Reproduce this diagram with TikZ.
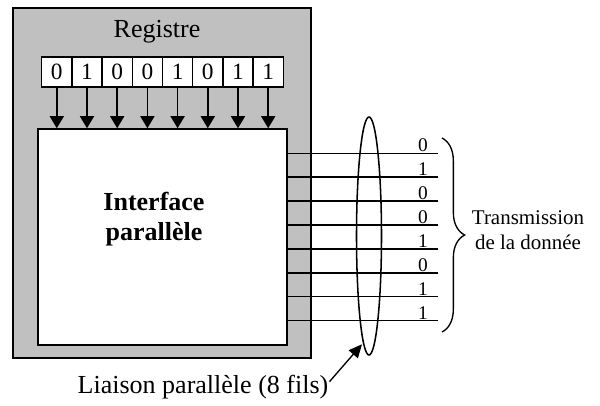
\documentclass[tikz,border=0pt]{standalone}
\usepackage{fontspec}
\setmainfont{Liberation Serif}
\usetikzlibrary{arrows.meta,shapes.geometric,decorations.pathreplacing}
\definecolor{boxgray}{RGB}{192,192,192}

\tikzset{every picture/.style={line width=1.15pt}}
\tikzset{
  cell/.style={draw, fill=white, minimum width=22.65pt, minimum height=22.5pt, inner sep=0pt, font=\fontsize{17.5}{20}\selectfont},
  bitlabel/.style={anchor=south east, inner sep=1pt, font=\fontsize{14.5}{16}\selectfont},
  bigtext/.style={font=\fontsize{19.5}{23}\selectfont},
  downarrow/.style={-{Triangle[width=10.5pt,length=9pt]}},
}

\begin{document}
\begin{tikzpicture}[x=0.75pt,y=0.75pt,yscale=-1,xscale=1]
\useasboundingbox (0,0) rectangle (600,405);

%Shape: Rectangle [id:registre]
\node [draw, fill=boxgray, minimum width=223.5pt, minimum height=262.5pt, inner sep=0pt] (regbox) at (162,183) {};
%Shape: Rectangle [id:interface]
\node [draw, fill=white, minimum width=186.75pt, minimum height=162pt, inner sep=0pt] (iface) at (162.5,237) {};

% Text Node
\node [bigtext] (registre) at (157,32) {Registre};
% Text Node
\node [bigtext, font=\fontsize{19.5}{23}\selectfont\bfseries, align=center] (ifacetext) at (154,219) {Interface\\parallèle};

%Shape: Register cells and arrows
\foreach \b [count=\i] in {0,1,0,0,1,0,1,1}{
  \node [cell] (c\i) at ({41.7+30.2*(\i-0.5)},72) {\b};
  \draw [downarrow] (c\i.south) -- (c\i.south |- iface.north);
}

%Straight Lines: the 8 wires
\foreach \b [count=\i] in {0,1,0,0,1,0,1,1}{
  \coordinate (w\i) at (438,{153.3+23.9*(\i-1)});
  \draw (iface.east |- w\i) -- (w\i);
  \node [bitlabel] (b\i) at ([xshift=-6pt,yshift=0.5pt]w\i) {\b};
}

%Shape: Ellipse [id:bundle]
\node [draw, ellipse, minimum width=18.75pt, minimum height=178.5pt, inner sep=0pt] (bundle) at (369,236) {};

%Shape: Brace
\draw [line width=1pt, decorate, decoration={brace, amplitude=17pt}] (442,138) -- (442,332);

% Text Node
\node [font=\fontsize{15.7}{19}\selectfont, align=center] (transm) at (528,230) {Transmission\\de la donnée};
% Text Node
\node [bigtext] (liaison) at (203,387) {Liaison parallèle (8 fils)};

%Straight Lines [id:liaison arrow]
\draw [line width=1pt, -{Triangle[width=9pt,length=10pt]}] ([xshift=-3pt,yshift=-4pt]liaison.east) -- ([xshift=-1pt]bundle.267);

\end{tikzpicture}
\end{document}
